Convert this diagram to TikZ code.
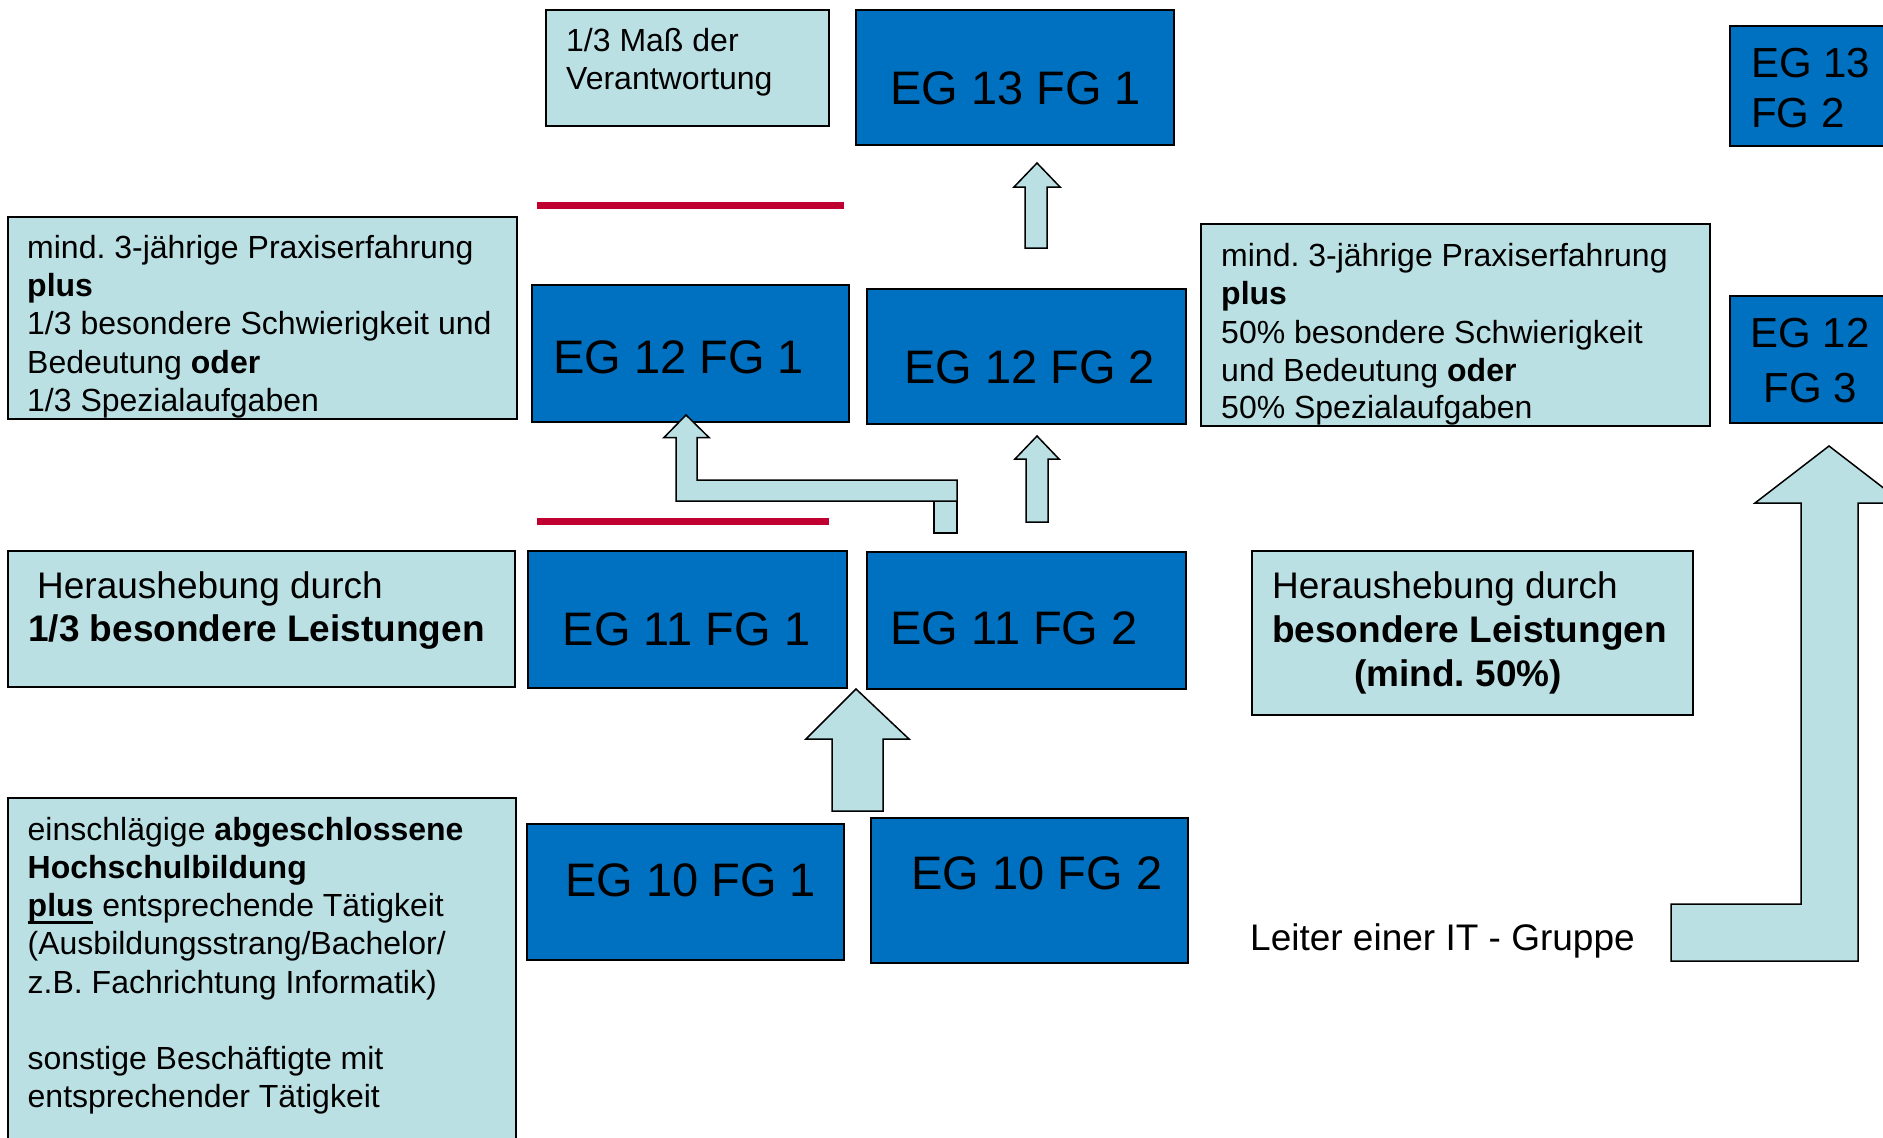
\documentclass[tikz,border=0pt]{standalone}
\usepackage{fontspec}
\setmainfont{Liberation Sans}
\frenchspacing
\definecolor{egblue}{RGB}{0,112,192}
\definecolor{lteal}{RGB}{187,224,227}
\definecolor{redline}{RGB}{192,0,48}
\newcommand\ulplus{{\setbox0\hbox{\textbf{plus}}\rlap{\rule[-7.5pt]{\wd0}{2.7pt}}\box0}}
\begin{document}
\begin{tikzpicture}[x=1pt,y=-1pt,
  egbox/.style={draw=black,fill=egblue,line width=1.5pt,inner sep=0pt},
  lbox/.style={draw=black,fill=lteal,line width=1.5pt,inner sep=0pt},
  txt/.style={font=\fontsize{32}{38}\selectfont,inner sep=0pt,anchor=base west},
  bigtxt/.style={font=\fontsize{37}{44}\selectfont,inner sep=0pt,anchor=base west},
  egtxt/.style={font=\fontsize{47}{56}\selectfont,inner sep=0pt,anchor=base},
  egsmall/.style={font=\fontsize{42}{50}\selectfont,inner sep=0pt},
  blockarrow/.style={draw=black,fill=lteal,line width=1.5pt,line join=miter},
  redbar/.style={draw=redline,line width=7pt}]
\clip (0,0) rectangle (1883,1138);
\fill[white] (0,0) rectangle (1883,1138);

% boxes
\node[lbox,minimum width=283pt,minimum height=116pt] (mass) at (687.5,68) {};
\node[egbox,minimum width=318pt,minimum height=135pt] (eg13a) at (1015,77.5) {};
\node[egbox,minimum width=170pt,minimum height=120pt] (eg13b) at (1815,86) {};
\node[lbox,minimum width=509pt,minimum height=202pt] (boxA) at (262.5,318) {};
\node[egbox,minimum width=317pt,minimum height=137pt] (eg12a) at (690.5,353.5) {};
\node[egbox,minimum width=319pt,minimum height=135pt] (eg12b) at (1026.5,356.5) {};
\node[lbox,minimum width=509pt,minimum height=202pt] (boxB) at (1455.5,325) {};
\node[egbox,minimum width=160pt,minimum height=127pt] (eg12c) at (1810,359.5) {};
\node[lbox,minimum width=507pt,minimum height=136pt] (boxC) at (261.5,619) {};
\node[egbox,minimum width=319pt,minimum height=137pt] (eg11a) at (687.5,619.5) {};
\node[egbox,minimum width=319pt,minimum height=137pt] (eg11b) at (1026.5,620.5) {};
\node[lbox,minimum width=441pt,minimum height=164pt] (boxD) at (1472.5,633) {};
\node[lbox,minimum width=508pt,minimum height=352pt] (boxE) at (262,974) {};
\node[egbox,minimum width=317pt,minimum height=136pt] (eg10a) at (685.5,892) {};
\node[egbox,minimum width=317pt,minimum height=145pt] (eg10b) at (1029.5,890.5) {};

% EG labels
\node[egtxt] (l13a) at (1015.5,104) {EG 13 FG 1};
\node[egtxt] (l12a) at (678.5,373) {EG 12 FG 1};
\node[egtxt] (l12b) at (1029.5,383) {EG 12 FG 2};
\node[egtxt] (l11a) at (686.5,645) {EG 11 FG 1};
\node[egtxt] (l11b) at (1014,644) {EG 11 FG 2};
\node[egtxt] (l10a) at (690.5,896) {EG 10 FG 1};
\node[egtxt] (l10b) at (1037,889) {EG 10 FG 2};
\node[egsmall,anchor=base west] (l13b1) at (1751,77) {EG 13};
\node[egsmall,anchor=base west] (l13b2) at (1751,127) {FG 2};
\node[egsmall,anchor=base] (l12c1) at (1810,347) {EG 12};
\node[egsmall,anchor=base] (l12c2) at (1810,402) {FG 3};

% text: mass box
\node[txt] (m1) at (566,51) {1/3 Maß der};
\node[txt] (m2) at (566,89) {Verantwortung};

% text: box A
\node[txt] (a1) at (27,258) {mind. 3-jährige Praxiserfahrung};
\node[txt] (a2) at (27,296) {\textbf{plus}};
\node[txt] (a3) at (27,334) {1/3 besondere Schwierigkeit und};
\node[txt] (a4) at (27,373) {Bedeutung \textbf{oder}};
\node[txt] (a5) at (27,411) {1/3 Spezialaufgaben};

% text: box B
\node[txt] (b1) at (1221,266) {mind. 3-jährige Praxiserfahrung};
\node[txt] (b2) at (1221,304) {\textbf{plus}};
\node[txt] (b3) at (1221,343) {50\% besondere Schwierigkeit};
\node[txt] (b4) at (1221,381) {und Bedeutung \textbf{oder}};
\node[txt] (b5) at (1221,418) {50\% Spezialaufgaben};

% text: box C
\node[bigtxt] (c1) at (37,598) {Heraushebung durch};
\node[bigtxt] (c2) at (28,641) {\textbf{1/3 besondere Leistungen}};

% text: box D
\node[bigtxt] (d1) at (1272,598) {Heraushebung durch};
\node[bigtxt] (d2) at (1272,642) {\textbf{besondere Leistungen}};
\node[bigtxt,anchor=base] (d3) at (1458,686) {\textbf{(mind. 50\%)}};

% text: box E
\node[txt] (e1) at (27.5,840) {einschlägige \textbf{abgeschlossene}};
\node[txt] (e2) at (27.5,878) {\textbf{Hochschulbildung}};
\node[txt] (e3) at (27.5,916) {\ulplus{} entsprechende Tätigkeit};
\node[txt] (e4) at (27.5,954.5) {(Ausbildungsstrang/Bachelor/};
\node[txt] (e5) at (27.5,993) {z.B. Fachrichtung Informatik)};
\node[txt] (e6) at (27.5,1069) {sonstige Beschäftigte mit};
\node[txt] (e7) at (27.5,1107.5) {entsprechender Tätigkeit};

% free label
\node[bigtxt] (leiter) at (1250,950) {Leiter einer IT - Gruppe};

% red bars
\coordinate (r1a) at (537,205); \coordinate (r1b) at (844,205);
\coordinate (r2a) at (537,521.5); \coordinate (r2b) at (829,521.5);
\draw[redbar] (r1a) -- (r1b);
\draw[redbar] (r2a) -- (r2b);

% block arrows
\draw[blockarrow] (1037,163) -- (1060,187) -- (1047,187) -- (1047,248) -- (1025,248) -- (1025,187) -- (1014,187) -- cycle;
\draw[blockarrow] (1037,436) -- (1059,459) -- (1048,459) -- (1048,522) -- (1026,522) -- (1026,459) -- (1015,459) -- cycle;
\draw[blockarrow] (934,501) rectangle (957,533);
\draw[blockarrow] (686,415) -- (709,437.5) -- (697,437.5) -- (697,480) -- (957,480) -- (957,501) -- (676,501) -- (676,437.5) -- (664,437.5) -- cycle;
\draw[blockarrow] (856,689) -- (909,739) -- (883,739) -- (883,811) -- (832,811) -- (832,739) -- (806,739) -- cycle;
\draw[blockarrow] (1829,446) -- (1903,503) -- (1858,503) -- (1858,961) -- (1671,961) -- (1671,904) -- (1801,904) -- (1801,503) -- (1755,503) -- cycle;
\end{tikzpicture}
\end{document}
